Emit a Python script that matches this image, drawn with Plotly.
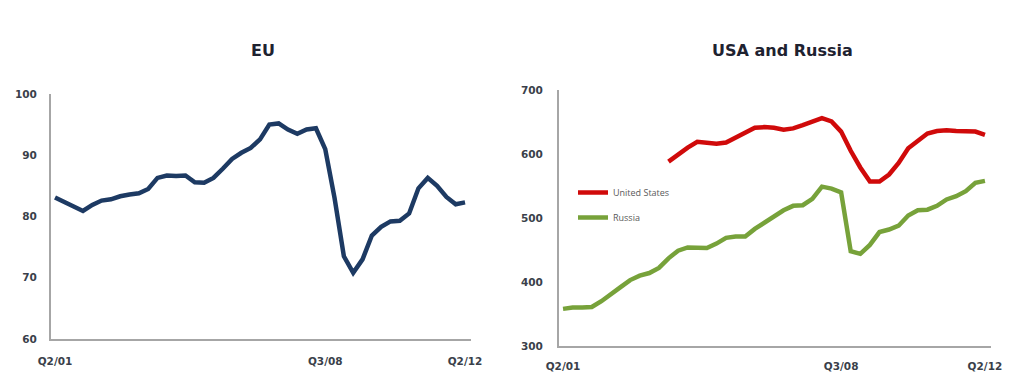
import plotly.graph_objects as go

# Quarterly categories Q2/01 .. Q2/12
quarters = []
for y in range(2001, 2013):
    for q in range(1, 5):
        if (y == 2001 and q < 2) or (y == 2012 and q > 2):
            continue
        quarters.append(f"Q{q}/{str(y)[2:]}")

tick_labels = ["Q2/01", "Q3/08", "Q2/12"]

eu = [83.1, 82.3, 81.5, 80.9, 81.9, 82.6, 82.8, 83.3, 83.6, 83.8, 84.5, 86.3,
      86.7, 86.6, 86.7, 85.6, 85.5, 86.3, 87.8, 89.4, 90.4, 91.2, 92.6, 95.0,
      95.2, 94.2, 93.5, 94.2, 94.4, 91.0, 83.0, 73.5, 70.8, 73.0, 76.9, 78.3,
      79.2, 79.3, 80.5, 84.6, 86.3, 85.0, 83.2, 82.0, 82.3]

usa = [None] * 11 + [588, 600, 610, 619, 618, 616, 618, 626, 635, 641, 642,
                     641, 638, 640, 645, 650, 656, 651, 635, 605, 579, 557, 557,
                     568, 586, 609, 621, 632, 636, 637, 636, 636, 635, 630]

russia = [358, 360, 360, 361, 370, 382, 392, 403, 410, 414, 422, 437, 449, 454,
          454, 453, 460, 469, 471, 471, 483, 493, 502, 512, 519, 520, 530, 549,
          546, 540, 448, 444, 458, 478, 482, 488, 504, 512, 513, 519, 529, 534,
          542, 555, 558]

W, H = 1034, 392
tick_font = dict(family="DejaVu Sans", size=10.5, color="#3a3f4a", weight="bold")
title_font = dict(family="DejaVu Sans", size=16, color="#1e2230", weight="bold")

fig = go.Figure()
fig.add_trace(go.Scatter(x=quarters, y=eu, mode="lines", name="EU",
                         line=dict(color="#1d3a63", width=4.5),
                         showlegend=False, xaxis="x", yaxis="y"))
fig.add_trace(go.Scatter(x=quarters, y=usa, mode="lines", name="United States",
                         line=dict(color="#d00a0a", width=4.5),
                         legendgroup="a", xaxis="x2", yaxis="y2"))
fig.add_trace(go.Scatter(x=quarters, y=russia, mode="lines", name="Russia",
                         line=dict(color="#77a23a", width=4.5),
                         legendgroup="b", xaxis="x2", yaxis="y2"))

axis_common = dict(showline=True, linecolor="#a6a6a6", linewidth=2,
                   showgrid=False, zeroline=False, tickfont=tick_font, ticks="",
                   automargin=False)

fig.update_layout(
    width=W, height=H,
    margin=dict(l=0, r=0, t=0, b=0),
    paper_bgcolor="white", plot_bgcolor="white",
    xaxis=dict(domain=[51 / W, 471 / W], type="category", range=[-0.43, 44.64],
               tickvals=tick_labels, ticktext=tick_labels, anchor="y",
               ticklabelstandoff=11, **axis_common),
    yaxis=dict(domain=[1 - 339 / H, 1 - 94 / H], range=[60, 100],
               tickvals=[60, 70, 80, 90, 100], anchor="x",
               ticklabelstandoff=10, **axis_common),
    xaxis2=dict(domain=[559 / W, 991 / W], type="category", range=[-0.42, 44.63],
                tickvals=tick_labels, ticktext=tick_labels, anchor="y2",
                ticklabelstandoff=9, **axis_common),
    yaxis2=dict(domain=[1 - 346 / H, 1 - 90 / H], range=[300, 700],
                tickvals=[300, 400, 500, 600, 700], anchor="x2",
                ticklabelstandoff=12, **axis_common),
    legend=dict(x=573 / W, y=1 - 178 / H, xanchor="left", yanchor="top",
                bgcolor="rgba(0,0,0,0)", traceorder="grouped",
                tracegroupgap=6,
                font=dict(family="Open Sans", size=9, color="#595959")),
    annotations=[
        dict(text="EU", x=263 / W, y=1 - 51 / H, xref="paper", yref="paper",
             xanchor="center", yanchor="middle", showarrow=False, font=title_font),
        dict(text="USA and Russia", x=782 / W, y=1 - 51 / H, xref="paper",
             yref="paper", xanchor="center", yanchor="middle", showarrow=False,
             font=title_font),
    ],
)

fig.write_html("out.html")
